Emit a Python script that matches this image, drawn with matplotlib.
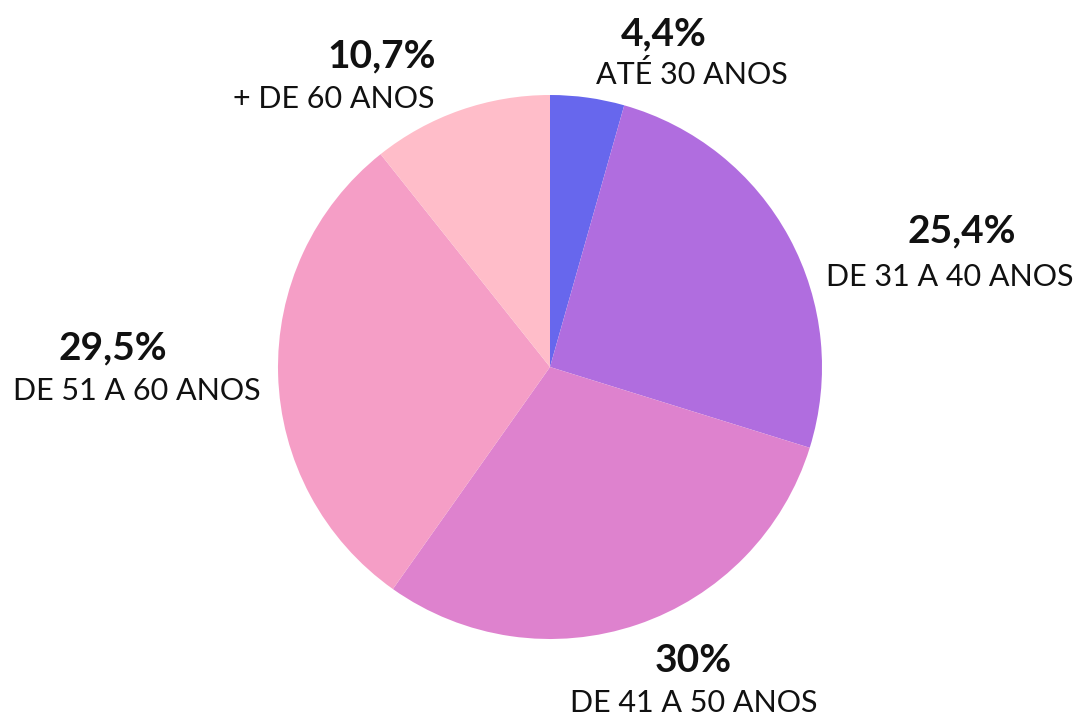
import matplotlib
matplotlib.use("Agg")
import matplotlib.pyplot as plt
import numpy as np

values = [4.4, 25.4, 30, 29.5, 10.7]
pct_labels = ["4,4%", "25,4%", "30%", "29,5%", "10,7%"]
cat_labels = ["ATÉ 30 ANOS", "DE 31 A 40 ANOS", "DE 41 A 50 ANOS", "DE 51 A 60 ANOS", "+ DE 60 ANOS"]
colors = ["#6767ED", "#B06DDF", "#DE82CE", "#F59EC6", "#FFBDC9"]

# layout (pixel offsets from pie centre for percentage / category text)
pct_pos = [(114, 333), (412, 136), (143, -294), (-437, 19), (-168, 311)]
cat_pos = [(142, 292), (400, 90), (144, -336), (-413, -24), (-216, 268)]

W, H = 1079, 717
fig = plt.figure(figsize=(W / 100, H / 100), dpi=100)
ax = fig.add_axes([0, 0, 1, 1])
ax.set_xlim(0, W)
ax.set_ylim(0, H)
ax.set_aspect("equal")
ax.axis("off")

cx, cy, R = 550, 350, 272
ax.pie(values, colors=colors, startangle=90, counterclock=False,
       center=(cx, cy), radius=R, frame=True,
       wedgeprops=dict(linewidth=0))
ax.set_xlim(0, W)
ax.set_ylim(0, H)
ax.axis("off")

for p, c, (px, py), (qx, qy) in zip(pct_labels, cat_labels, pct_pos, cat_pos):
    ax.text(cx + px, cy + py, p, ha="center", va="center", fontsize=28,
            fontweight="bold", family="Lato", color="#111111")
    ax.text(cx + qx, cy + qy, c, ha="center", va="center", fontsize=22,
            family="Lato", color="#111111")

fig.savefig("out.png", dpi=100)
